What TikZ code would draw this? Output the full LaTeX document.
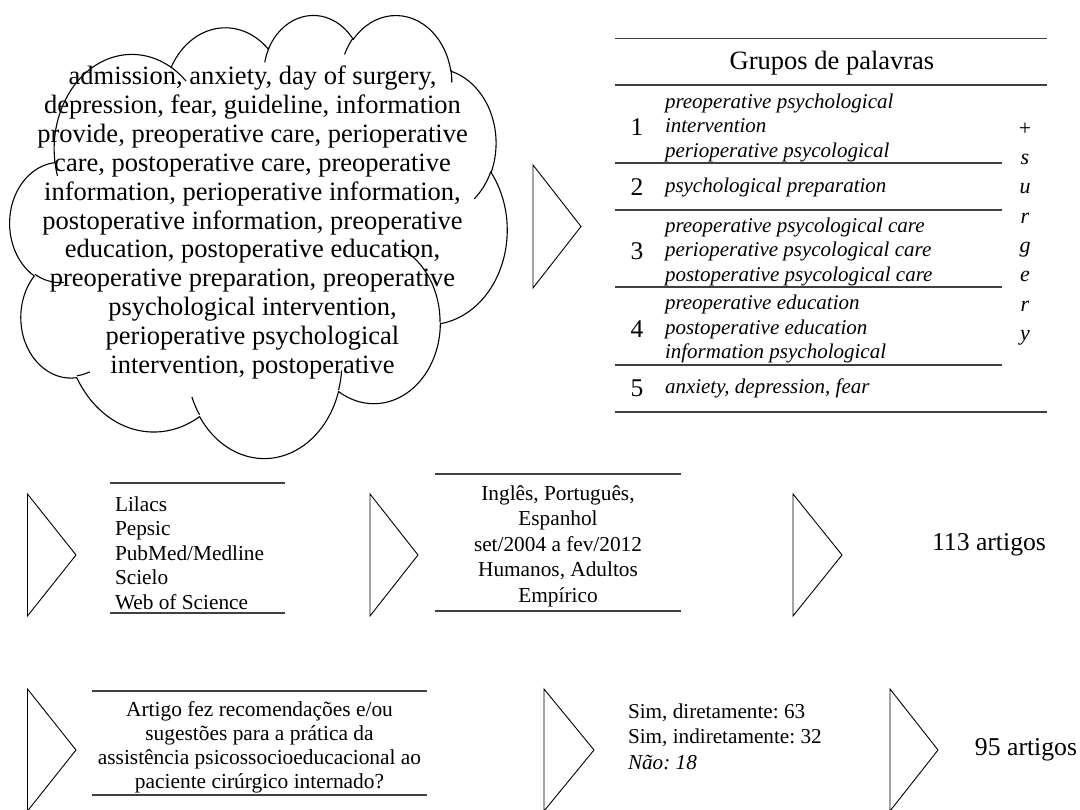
\documentclass[tikz,border=0pt]{standalone}
\usepackage{fontspec}
\setmainfont{Liberation Serif}

\newcommand\fsz[2]{\fontsize{#1}{#2}\selectfont}

% Elliptic arc given like a DrawingML arcTo (visual start and sweep angles);
% stores the matching parametric start and sweep as \ooS<name> and \ooD<name>.
\newcommand\ooprep[5]{%
  \pgfmathsetmacro\ooS{atan2((#2)*sin(#4),(#3)*cos(#4))}%
  \pgfmathsetmacro\ooE{atan2((#2)*sin((#4)+(#5)),(#3)*cos((#4)+(#5)))}%
  \pgfmathsetmacro\ooD{mod(\ooE-\ooS+720,360)}%
  \expandafter\xdef\csname ooS#1\endcsname{\ooS}%
  \expandafter\xdef\csname ooD#1\endcsname{\ooD}%
}

\tikzset{
  cloudshape/.style={draw=black, line width=1.1pt, fill=white, line join=round},
  cloudinner/.style={draw=black, line width=1.1pt},
  chev/.style={draw=black, line width=0.9pt, line join=miter},
  rule/.style={draw=black!75, line width=1.2pt},
  txt/.style={inner sep=0pt, outer sep=0pt},
}

\begin{document}
\frenchspacing
\begin{tikzpicture}[x=1pt, y=-1pt]
\fill[white] (0,0) rectangle (1080,810);
\useasboundingbox (0,0) rectangle (1080,810);

% ---------- cloud of keywords ----------
\begin{scope}[shift={(10,14)}, x=0.115046pt, y=-0.102546pt]
  % outline arcs
  \ooprep{a}{675.3}{919.0}{-190.48748}{123.78053}
  \ooprep{b}{533.3}{726.7}{-144.10238}{89.94523}
  \ooprep{c}{436.5}{594.5}{-145.80792}{99.72302}
  \ooprep{d}{485.7}{659.5}{-130.98607}{117.24173}
  \ooprep{e}{533.3}{727.3}{-78.70888}{109.02692}
  \ooprep{f}{677.5}{922.0}{-46.26725}{130.26900}
  \ooprep{g}{578.5}{786.7}{0.62502}{114.03333}
  \ooprep{h}{675.2}{921.5}{22.45160}{115.17255}
  \ooprep{i}{772.0}{1054.3}{66.24263}{75.71102}
  \ooprep{j}{436.0}{591.8}{-274.94208}{146.73557}
  \ooprep{k}{434.5}{594.5}{-246.82850}{152.51885}
  % inner arcs
  \ooprep{l}{434.5}{594.5}{86.74200}{26.42950}
  \ooprep{m}{436.0}{591.8}{73.61047}{11.44747}
  \ooprep{n}{675.2}{921.5}{137.62415}{14.08110}
  \ooprep{o}{675.2}{921.5}{6.45327}{15.99835}
  \ooprep{p}{578.5}{786.7}{-70.29235}{70.91737}
  \ooprep{q}{533.3}{727.3}{30.31803}{27.75150}
  \ooprep{r}{485.7}{659.5}{-13.74433}{14.85890}
  \ooprep{s}{485.7}{659.5}{-149.18145}{18.19537}
  \ooprep{t}{436.5}{594.5}{-163.49427}{17.68635}
  \ooprep{u}{675.3}{919.0}{-66.70695}{12.31935}
  \ooprep{v}{675.3}{919.0}{157.65435}{11.85817}

  \path[cloudshape] (390,1437)
    arc[start angle=\ooSa, delta angle=\ooDa, x radius=675.3, y radius=919.0]
    arc[start angle=\ooSb, delta angle=\ooDb, x radius=533.3, y radius=726.7]
    arc[start angle=\ooSc, delta angle=\ooDc, x radius=436.5, y radius=594.5]
    arc[start angle=\ooSd, delta angle=\ooDd, x radius=485.7, y radius=659.5]
    arc[start angle=\ooSe, delta angle=\ooDe, x radius=533.3, y radius=727.3]
    arc[start angle=\ooSf, delta angle=\ooDf, x radius=677.5, y radius=922.0]
    arc[start angle=\ooSg, delta angle=\ooDg, x radius=578.5, y radius=786.7]
    arc[start angle=\ooSh, delta angle=\ooDh, x radius=675.2, y radius=921.5]
    arc[start angle=\ooSi, delta angle=\ooDi, x radius=772.0, y radius=1054.3]
    arc[start angle=\ooSj, delta angle=\ooDj, x radius=436.0, y radius=591.8]
    arc[start angle=\ooSk, delta angle=\ooDk, x radius=434.5, y radius=594.5]
    -- cycle;

  \path[cloudinner]
    (469.3,2617.7) arc[start angle=\ooSl, delta angle=\ooDl, x radius=434.5, y radius=594.5]
    (692.8,3489.9) arc[start angle=\ooSm, delta angle=\ooDm, x radius=436.0, y radius=591.8]
    (1647.8,3909.0) arc[start angle=\ooSn, delta angle=\ooDn, x radius=675.2, y radius=921.5]
    (2882.7,3475.1) arc[start angle=\ooSo, delta angle=\ooDo, x radius=675.2, y radius=921.5]
    (3412.9,2295.4) arc[start angle=\ooSp, delta angle=\ooDp, x radius=578.5, y radius=786.7]
    (4179.8,1535.4) arc[start angle=\ooSq, delta angle=\ooDq, x radius=533.3, y radius=727.3]
    (3832.4,542.6) arc[start angle=\ooSr, delta angle=\ooDr, x radius=485.7, y radius=659.5]
    (2907.8,395.2) arc[start angle=\ooSs, delta angle=\ooDs, x radius=485.7, y radius=659.5]
    (2214.1,472.0) arc[start angle=\ooSt, delta angle=\ooDt, x radius=436.5, y radius=594.5]
    (1400.0,519.2) arc[start angle=\ooSu, delta angle=\ooDu, x radius=675.3, y radius=919.0]
    (412.7,1578.9) arc[start angle=\ooSv, delta angle=\ooDv, x radius=675.3, y radius=919.0];
\end{scope}

\node[txt, align=center, font=\fsz{26.5}{28.9}] (keywords) at (252.5,222.5)
  {admission, anxiety, day of surgery,\\
   depression, fear, guideline, information\\
   provide, preoperative care, perioperative\\
   care, postoperative care, preoperative\\
   information, perioperative information,\\
   postoperative information, preoperative\\
   education, postoperative education,\\
   preoperative preparation, preoperative\\
   psychological intervention,\\
   perioperative psychological\\
   intervention, postoperative};

% ---------- chevrons ----------
\path[chev] (533,165) -- (581,226.5) -- (533,288) -- cycle;
\path[chev] (27.5,494) -- (76,555) -- (27.5,616) -- cycle;
\path[chev] (370,494) -- (418,555) -- (370,616) -- cycle;
\path[chev] (793,494) -- (842,555) -- (793,616) -- cycle;
\path[chev] (27.5,689) -- (76,750) -- (27.5,811) -- cycle;
\path[chev] (544,689) -- (594,750) -- (544,811) -- cycle;
\path[chev] (890,689) -- (938,750) -- (890,811) -- cycle;

% ---------- table of word groups ----------
\path[rule] (615,38.3) -- (1047,38.3);
\path[rule] (615,85) -- (1047,85);
\path[rule] (615,163) -- (1002,163);
\path[rule] (615,210) -- (1002,210);
\path[rule] (615,287) -- (1002,287);
\path[rule] (615,365) -- (1002,365);
\path[rule] (615,412) -- (1047,412);

\node[txt, font=\fsz{26.5}{30}] (head) at (832,63) {Grupos de palavras};

\node[txt, font=\fsz{25.5}{30}] (n1) at (637,127.5) {1};
\node[txt, font=\fsz{25.5}{30}] (n2) at (637,187) {2};
\node[txt, font=\fsz{25.5}{30}] (n3) at (637,251.5) {3};
\node[txt, font=\fsz{25.5}{30}] (n4) at (637,329) {4};
\node[txt, font=\fsz{25.5}{30}] (n5) at (637,388) {5};

\node[txt, anchor=west, align=left, font=\fsz{21}{24.5}\itshape] (g1) at (665,127.5)
  {preoperative psychological\\ intervention\\ perioperative psycological};
\node[txt, anchor=west, align=left, font=\fsz{21}{24.5}\itshape] (g2) at (665,187)
  {psychological preparation};
\node[txt, anchor=west, align=left, font=\fsz{21}{24.5}\itshape] (g3) at (665,251.5)
  {preoperative psycological care\\ perioperative psycological care\\ postoperative psycological care};
\node[txt, anchor=west, align=left, font=\fsz{21}{24.5}\itshape] (g4) at (665,329)
  {preoperative education\\ postoperative education\\ information psychological};
\node[txt, anchor=west, align=left, font=\fsz{21}{24.5}\itshape] (g5) at (665,388)
  {anxiety, depression, fear};

\node[txt, align=center, font=\fsz{22}{29.3}\itshape] (plus) at (1025,234)
  {\upshape +\\ s\\ u\\ r\\ g\\ e\\ r\\ y};

% ---------- databases and filters ----------
\path[rule] (110,483) -- (285,483);
\path[rule] (110,613) -- (285,613);
\node[txt, anchor=west, align=left, font=\fsz{21.3}{24.5}] (bases) at (115,553)
  {Lilacs\\ Pepsic\\ PubMed/Medline\\ Scielo\\ Web of Science};

\path[rule] (435,474) -- (681,474);
\path[rule] (435,611) -- (681,611);
\node[txt, align=center, font=\fsz{21.3}{25.5}] (filters) at (558,546)
  {Inglês, Português,\\ Espanhol\\ set/2004 a fev/2012\\ Humanos, Adultos\\ Empírico};

\node[txt, font=\fsz{25.7}{30}] (found) at (989,545) {113 artigos};

% ---------- selection question ----------
\path[rule] (92,691) -- (427,691);
\path[rule] (92,795) -- (427,795);
\node[txt, align=center, font=\fsz{21.4}{24}] (question) at (259.5,747)
  {Artigo fez recomendações e/ou\\ sugestões para a prática da\\
   assistência psicossocioeducacional ao\\ paciente cirúrgico internado?};

\node[txt, anchor=west, align=left, font=\fsz{21.2}{25.5}] (answers) at (628,736.5)
  {Sim, diretamente: 63\\ Sim, indiretamente: 32\\ \textit{Não: 18}};

\node[txt, font=\fsz{25.7}{30}] (kept) at (1026,750) {95 artigos};
\end{tikzpicture}
\end{document}
